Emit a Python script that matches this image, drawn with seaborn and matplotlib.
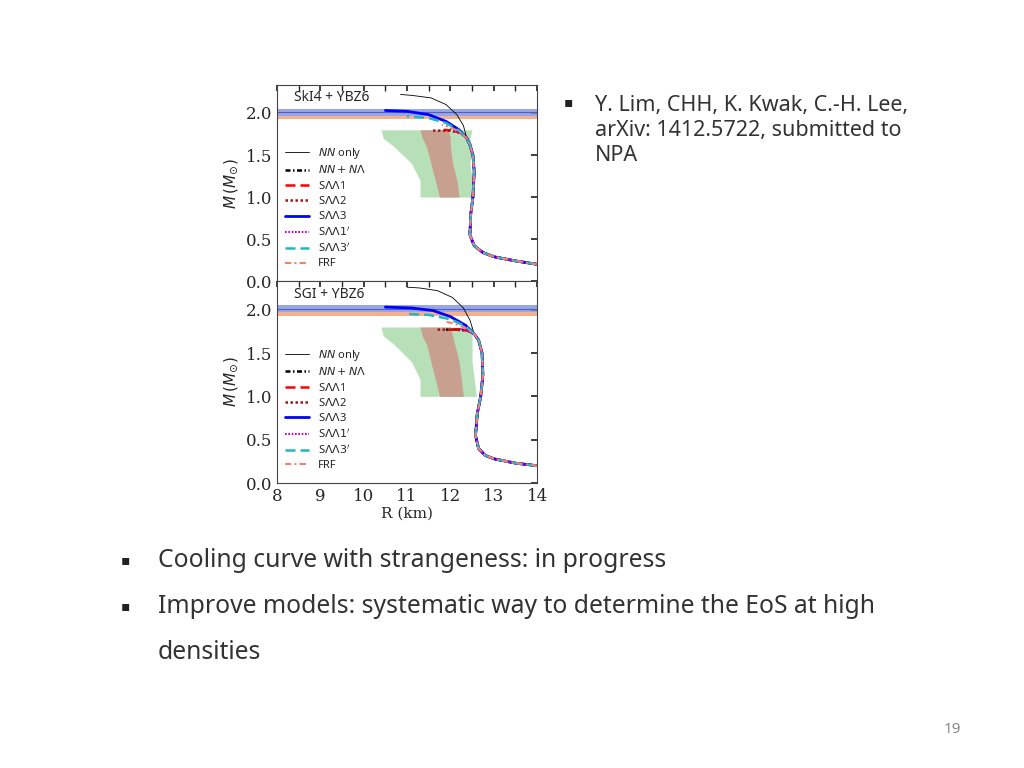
import matplotlib
matplotlib.use("Agg")
import matplotlib.pyplot as plt
import seaborn as sns
import numpy as np

sns.set_theme(style="white")
plt.rcParams['font.family'] = ['Noto Sans', 'DejaVu Sans']

# shared low/mid mass branch (R km, M Msun) for each panel
top_R = [14.0, 13.5, 13.0, 12.75, 12.55, 12.45, 12.47, 12.52, 12.55, 12.52, 12.45, 12.38]
top_M = [0.20, 0.24, 0.29, 0.34, 0.42, 0.55, 0.80, 1.00, 1.30, 1.50, 1.62, 1.70]
bot_R = [14.0, 13.5, 13.0, 12.8, 12.65, 12.58, 12.62, 12.70, 12.75, 12.73, 12.65, 12.55]
bot_M = [0.20, 0.23, 0.28, 0.32, 0.40, 0.55, 0.80, 1.00, 1.25, 1.50, 1.65, 1.72]

# high-mass ends of each model: (R list, M list)
top_ext = {
    "NN only": ([12.38, 12.3, 12.15, 11.9, 11.55, 11.1, 10.85], [1.70, 1.85, 1.98, 2.10, 2.18, 2.21, 2.22]),
    "NN+NL": ([12.38, 12.3, 12.15, 12.0], [1.70, 1.76, 1.80, 1.81]),
    "SLL1": ([12.38, 12.25, 12.05, 11.85], [1.70, 1.76, 1.79, 1.80]),
    "SLL2": ([12.38, 12.25, 12.0, 11.6], [1.70, 1.76, 1.79, 1.79]),
    "SLL3": ([12.38, 12.2, 11.9, 11.5, 11.0, 10.5], [1.70, 1.80, 1.90, 1.98, 2.02, 2.03]),
    "SLL1p": ([12.38, 12.25, 12.05], [1.70, 1.76, 1.80]),
    "SLL3p": ([12.38, 12.2, 11.9, 11.5, 11.0], [1.70, 1.79, 1.88, 1.94, 1.96]),
    "FRF": ([12.38, 12.2, 11.95, 11.8], [1.70, 1.78, 1.84, 1.86]),
}
bot_ext = {
    "NN only": ([12.55, 12.45, 12.3, 12.05, 11.7, 11.3, 11.0], [1.72, 1.88, 2.02, 2.14, 2.22, 2.25, 2.26]),
    "NN+NL": ([12.55, 12.4, 12.2, 11.9], [1.72, 1.76, 1.77, 1.77]),
    "SLL1": ([12.55, 12.4, 12.2, 12.0], [1.72, 1.76, 1.77, 1.77]),
    "SLL2": ([12.55, 12.4, 12.1, 11.7], [1.72, 1.76, 1.77, 1.77]),
    "SLL3": ([12.55, 12.35, 12.0, 11.6, 11.1, 10.5], [1.72, 1.82, 1.92, 1.99, 2.02, 2.03]),
    "SLL1p": ([12.55, 12.4, 12.2], [1.72, 1.76, 1.78]),
    "SLL3p": ([12.55, 12.35, 12.0, 11.5, 11.05], [1.72, 1.81, 1.89, 1.94, 1.95]),
    "FRF": ([12.55, 12.35, 12.1, 11.9], [1.72, 1.79, 1.84, 1.86]),
}
labels = {"NN only": r"$NN$ only", "NN+NL": r"$NN+N\Lambda$", "SLL1": r"S$\Lambda\Lambda$1",
          "SLL2": r"S$\Lambda\Lambda$2", "SLL3": r"S$\Lambda\Lambda$3", "SLL1p": r"S$\Lambda\Lambda1'$",
          "SLL3p": r"S$\Lambda\Lambda3'$", "FRF": "FRF"}
styles = {"NN only": dict(color="black", lw=0.6, ls="-"),
          "NN+NL": dict(color="black", lw=1.8, ls=(0, (2, 1, 0.6, 1))),
          "SLL1": dict(color="red", lw=1.8, ls=(0, (4, 2))),
          "SLL2": dict(color="#a01818", lw=1.8, ls=(0, (1, 1))),
          "SLL3": dict(color="blue", lw=2.0, ls="-"),
          "SLL1p": dict(color="#cc00cc", lw=1.5, ls=(0, (0.8, 0.8))),
          "SLL3p": dict(color="#20b8c0", lw=1.8, ls=(0, (4, 2))),
          "FRF": dict(color="#f08070", lw=1.5, ls=(0, (3, 1.5, 1, 1.5)))}

# constraint regions
green_M = [1.0, 1.2, 1.4, 1.6, 1.7, 1.8]
top_green_L = [11.3, 11.3, 11.1, 10.7, 10.45, 10.4]
top_green_R = [12.55, 12.5, 12.45, 12.5, 12.45, 12.5]
top_brown_L = [11.75, 11.65, 11.55, 11.45, 11.35, 11.3]
top_brown_R = [12.2, 12.15, 12.05, 12.0, 12.0, 11.95]
bot_green_L = [11.3, 11.3, 11.1, 10.7, 10.45, 10.4]
bot_green_R = [12.6, 12.55, 12.5, 12.5, 12.5, 12.5]
bot_brown_L = [11.75, 11.65, 11.55, 11.45, 11.35, 11.3]
bot_brown_R = [12.3, 12.25, 12.2, 12.1, 12.05, 12.0]

order = ["NN only", "NN+NL", "SLL1", "SLL2", "SLL3", "SLL1p", "SLL3p", "FRF"]

fig = plt.figure(figsize=(10.24, 7.68), dpi=100)
axT = fig.add_axes([0.2705, 0.634, 0.254, 0.255])
axB = fig.add_axes([0.2705, 0.371, 0.254, 0.263])

for ax, R0, M0, ext, gL, gR, bL, bR, title in [
        (axT, top_R, top_M, top_ext, top_green_L, top_green_R, top_brown_L, top_brown_R, "SkI4 + YBZ6"),
        (axB, bot_R, bot_M, bot_ext, bot_green_L, bot_green_R, bot_brown_L, bot_brown_R, "SGI + YBZ6")]:
    ax.axhspan(1.97, 2.05, color="#8090e0", alpha=0.8, lw=0)
    ax.axhline(2.01, color="#5060c0", lw=0.8)
    ax.axhspan(1.93, 1.97, color="#f4a882", alpha=0.9, lw=0)
    ax.fill_betweenx(green_M, gL, gR, color="#b8e0b8", lw=0)
    ax.fill_betweenx(green_M, bL, bR, color="#c8a090", lw=0)
    handles = []
    for k in order:
        r, m = ext[k]
        rr = list(R0) + list(r[1:])
        mm = list(M0) + list(m[1:])
        if k == "NN only":
            h, = ax.plot(r, m, label=labels[k], **styles[k])
            ax.plot(R0[-2:], M0[-2:], **styles[k])
        else:
            h, = ax.plot(rr, mm, label=labels[k], **styles[k])
        handles.append(h)
    ax.set_xlim(8, 14)
    ax.set_xticks(range(8, 15))
    ax.xaxis.set_minor_locator(matplotlib.ticker.MultipleLocator(0.5))
    ax.tick_params(axis="x", which="both", direction="in", top=True, length=4)
    ax.tick_params(axis="y", direction="in", right=True, length=4, labelsize=12)
    ax.set_yticks([0, 0.5, 1.0, 1.5, 2.0])
    ax.set_yticklabels(["0.0", "0.5", "1.0", "1.5", "2.0"], family="DejaVu Serif")
    ax.set_ylim(0, 2.33)
    ax.set_ylabel(r"$M\,(M_{\odot})$", fontsize=11)
    ax.text(8.4, 2.14, title, fontsize=10)
    for s in ax.spines.values():
        s.set_color("#444444")
        s.set_linewidth(0.8)
    ax.legend(handles=handles, loc="lower left", bbox_to_anchor=(0.0, 0.02), frameon=False,
              fontsize=8, handlelength=2.2, labelspacing=0.3, borderaxespad=0.3)

axT.set_xticklabels([])
axB.set_xticklabels([str(i) for i in range(8, 15)], family="DejaVu Serif", fontsize=12)
axB.set_xlabel("R (km)", family="DejaVu Serif", fontsize=11, labelpad=1)

# slide text
fig.text(0.551, 0.862, "\u25aa", fontsize=10, color="#222222")
fig.text(0.581, 0.876, "Y. Lim, CHH, K. Kwak, C.-H. Lee,\narXiv: 1412.5722, submitted to\nNPA",
         fontsize=15.5, va="top", color="#333333", linespacing=1.25)
fig.text(0.118, 0.266, "\u25aa", fontsize=10, color="#222222")
fig.text(0.154, 0.27, "Cooling curve with strangeness: in progress", fontsize=17.8, va="center", color="#333333")
fig.text(0.118, 0.206, "\u25aa", fontsize=10, color="#222222")
fig.text(0.154, 0.21, "Improve models: systematic way to determine the EoS at high", fontsize=17.8,
         va="center", color="#333333")
fig.text(0.154, 0.15, "densities", fontsize=17.8, va="center", color="#333333")
fig.text(0.93, 0.045, "19", fontsize=11, ha="center", color="#888888")

fig.savefig("out.png", dpi=100)
